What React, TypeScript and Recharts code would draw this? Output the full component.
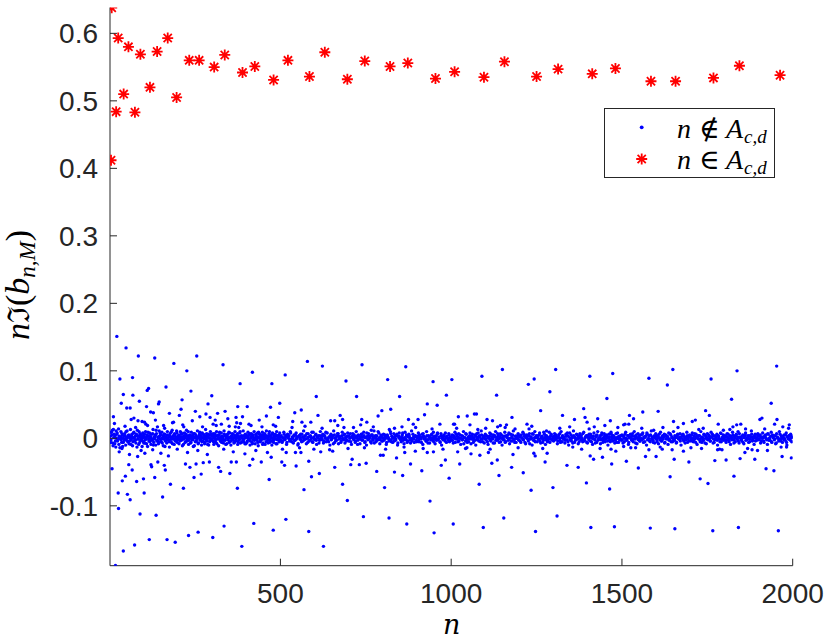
import React from 'react';
import { ScatterChart, Scatter, XAxis, YAxis } from 'recharts';

// ---------- axis ticks ----------
const xTicks = [500, 1000, 1500, 2000];
const xTickLabels = ['500', '1000', '1500', '2000'];
const yTicks = [-0.1, 0, 0.1, 0.2, 0.3, 0.4, 0.5, 0.6];
const yTickLabels = ['-0.1', '0', '0.1', '0.2', '0.3', '0.4', '0.5', '0.6'];
const xDomain = [1, 2000];
const yDomain = [-0.1887, 0.6383];

// ---------- n in A_{c,d} (red stars) ----------
const inSetDots: [number, number][] = [
  [4, 0.412], [6, 0.638], [19, 0.484], [25, 0.593], [41, 0.510], [55, 0.580], [74, 0.483],
  [90, 0.569], [118, 0.520], [139, 0.573], [170, 0.593], [196, 0.505], [233, 0.560],
  [262, 0.560], [306, 0.550], [337, 0.568], [389, 0.542], [425, 0.551], [480, 0.531],
  [522, 0.560], [585, 0.536], [630, 0.572], [696, 0.532], [747, 0.559], [821, 0.551],
  [873, 0.556], [954, 0.533], [1010, 0.543], [1096, 0.535], [1156, 0.558], [1250, 0.536],
  [1313, 0.547], [1413, 0.540], [1481, 0.548], [1585, 0.529], [1657, 0.529], [1768, 0.534],
  [1844, 0.552], [1963, 0.538],
];

// ---------- n not in A_{c,d}: scattered values ----------
const spreadDots: [number, number][] = [
  [21, .151], [48, .134], [84, .122], [132, .119], [255, .122], [188, .111], [332, .109], [226, .100],
  [418, .098], [514, .094], [67, .090], [30, .088], [382, .081], [475, .081], [165, .076], [114, .074],
  [110, .071], [238, .070], [40, .065], [68, .064], [299, .063], [212, .057], [87, .055], [145, .054],
  [143, .051], [34, .052], [288, .051], [498, .052], [50, .045], [60, .045], [108, .047], [375, .047],
  [403, .047], [471, .046], [209, .043], [120, .039], [128, .038], [251, .040], [316, .037], [338, .040],
  [175, .037], [11, .032], [71, .030], [204, .034], [264, .032], [282, .036], [294, .031], [370, .031],
  [389, .032], [459, .033], [494, .031], [83, .026], [95, .025], [102, .024], [187, .024], [309, .027],
  [327, .021], [372, .023], [383, .022], [438, .027], [303, .021], [111, .019], [140, .017], [161, .015],
  [217, .017], [350, .018], [368, .017], [414, .019], [479, .020], [19, .011],
  [36, -.015], [82, -.027], [103, -.022], [7, -.045], [56, -.039], [66, -.047], [121, -.039], [123, -.042],
  [141, -.035], [160, -.040], [163, -.047], [222, -.038], [235, -.043], [253, -.038], [274, -.036],
  [292, -.035], [319, -.043], [325, -.049], [352, -.052], [356, -.035], [371, -.035], [410, -.040],
  [419, -.031], [444, -.035], [473, -.028], [512, -.040], [504, -.035], [37, -.063], [46, -.056],
  [79, -.064], [99, -.060], [132, -.058], [178, -.068], [247, -.058], [268, -.053], [467, -.061],
  [25, -.081], [52, -.083], [60, -.091], [101, -.081], [155, -.087], [216, -.074], [374, -.074],
  [26, -.104], [89, -.112], [136, -.114], [516, -.120], [40, -.167], [73, -.158], [116, -.150],
  [168, -.150], [192, -.154], [231, -.144], [259, -.139], [302, -.147], [335, -.130], [387, -.160],
  [422, -.126], [479, -.136], [17, -.1885],
  [579, .114], [623, .107], [739, .109], [867, .106], [692, .085], [814, .087], [947, .084],
  [1002, .087], [605, .062], [723, .062], [849, .062], [986, .064], [930, .051], [959, .049],
  [561, .042], [542, .038], [823, .043], [797, .041], [610, .034], [675, .034], [786, .033], [922, .035],
  [536, .025], [563, .024], [589, .024], [647, .026], [659, .026], [682, .028], [738, .028], [735, .020],
  [753, .024], [875, .028], [903, .028], [889, .021], [856, .017], [967, .021], [1007, .021], [686, .016],
  [766, .012], [819, .013],
  [517, -.021], [544, -.021], [560, -.021], [618, -.020], [653, -.019], [710, -.031], [731, -.039],
  [751, -.037], [706, -.039], [793, -.025], [801, -.025], [840, -.029], [864, -.021], [881, -.038],
  [895, -.019], [930, -.021], [948, -.020], [983, -.032], [971, -.040], [546, -.041], [583, -.034],
  [659, -.043], [782, -.049], [834, -.050], [858, -.055], [914, -.048], [591, -.057], [614, -.052],
  [994, -.059], [569, -.076], [682, -.068], [805, -.073], [696, -.092], [938, -.093], [743, -.116],
  [818, -.118], [870, -.127], [1006, -.127], [583, -.138], [950, -.140], [626, -.160],
  [1090, .092], [1150, .102], [1306, .102], [1406, .092], [1473, .096], [1226, .080], [1243, .088],
  [1289, .069], [1133, .064], [1456, .059], [1388, .044], [1262, .041], [1021, .032], [1047, .033],
  [1068, .036], [1074, .036], [1178, .031], [1326, .034], [1392, .031], [1429, .029], [1466, .026],
  [1010, .021], [1055, .020], [1105, .028], [1121, .026], [1136, .017], [1144, .019], [1162, .020],
  [1101, .015], [1222, .021], [1236, .018], [1347, .017], [1361, .028], [1398, .024], [1419, .017],
  [1450, .019], [1505, .020], [1279, .011], [1187, .014],
  [1019, -.020], [1025, -.038], [1042, -.015], [1058, -.023], [1084, -.025], [1109, -.021], [1119, -.037],
  [1135, -.032], [1181, -.024], [1177, -.043], [1140, -.055], [1211, -.051], [1242, -.022], [1246, -.026],
  [1281, -.022], [1275, -.035], [1339, -.040], [1372, -.043], [1382, -.016], [1407, -.026], [1417, -.031],
  [1443, -.028], [1470, -.038], [1468, -.016], [1482, -.019], [1082, -.068], [1234, -.077], [1298, -.073],
  [1396, -.066], [1464, -.075], [1154, -.118], [1310, -.115], [1094, -.132], [1247, -.138], [1409, -.132],
  [1478, -.131],
  [1579, .089], [1649, .102], [1633, .079], [1761, .088], [1837, .100], [1953, .107], [1821, .058],
  [1937, .052], [1745, .041], [1756, .034], [1561, .039], [1606, .040], [1522, .034], [1534, .029],
  [1651, .025], [1680, .022], [1706, .025], [1715, .027], [1782, .021], [1825, .017], [1836, .020],
  [1848, .021], [1862, .014], [1904, .028], [1910, .030], [1947, .021], [1954, .028], [1971, .017],
  [1990, .020], [1509, .021], [1520, .021], [1620, .016], [1593, .012], [1725, .013], [1797, .012],
  [1505, -.012], [1513, -.034], [1540, -.014], [1548, -.044], [1569, -.027], [1579, -.017], [1600, -.027],
  [1618, -.016], [1641, -.057], [1653, -.031], [1647, -.017], [1680, -.019], [1696, -.035], [1729, -.060],
  [1752, -.067], [1733, -.015], [1772, -.033], [1780, -.017], [1793, -.017], [1805, -.032], [1828, -.056],
  [1846, -.030], [1860, -.021], [1881, -.017], [1889, -.031], [1897, -.018], [1922, -.045], [1926, -.018],
  [1945, -.048], [1969, -.027], [1996, -.029], [1982, -.013], [1583, -.133], [1655, -.134], [1766, -.137],
  [1841, -.132], [1958, -.137],
];

// ---------- n not in A_{c,d}: moderate values ----------
const midDots: [number, number][] = [
  [14, .022], [28, -.020], [45, .018], [58, -.024], [63, .028], [76, .016], [92, -.018], [106, .021],
  [126, -.017], [134, .027], [150, -.022], [158, .019], [172, -.026], [184, .023], [198, -.016], [214, .020],
  [228, -.021], [242, .026], [258, -.018], [272, .017], [286, -.024], [312, .019], [334, -.016], [346, .029],
  [362, -.020], [378, .016], [396, -.023], [408, .021], [428, -.018], [446, .017], [462, -.021], [486, .018],
  [506, -.016], [534, .016], [556, -.014], [572, .018], [598, -.016], [622, .015], [644, -.017], [668, .019],
  [698, -.015], [714, .016], [746, -.014], [772, .017], [808, -.016], [834, .015], [862, -.013], [896, .016],
  [918, -.015], [944, .014], [976, -.016], [1016, .015], [1046, -.014], [1078, .013], [1114, -.016],
  [1158, .016], [1196, -.014], [1228, .014], [1268, -.015], [1318, .015], [1356, -.013], [1404, .014],
  [1436, -.015], [1488, .016], [1526, -.014], [1558, .015], [1612, -.013], [1664, .016], [1702, -.014],
  [1738, .015], [1786, -.016], [1816, .013], [1868, -.015], [1918, .014], [1966, -.013], [1988, .015],
];

// ---------- n not in A_{c,d}: values close to zero ----------
const bandDots: [number, number][] = [
  [2, .003], [3, -.006], [5, .009], [8, .012], [10, -.011], [12, .001], [13, .006], [15, -.008], [16, .004],
  [18, -.013], [20, .000], [22, .008], [23, -.004], [26, .014], [27, -.009], [29, .002], [31, -.001], [33, .010],
  [35, -.006], [37, .005], [38, -.012], [42, .003], [43, -.003], [44, .007], [47, -.010], [49, .001], [51, .011],
  [53, -.005], [54, .004], [57, -.008], [59, .002], [61, .013], [63, -.002], [65, .006], [67, -.011], [69, .000],
  [71, .009], [73, -.004], [75, .003], [77, -.007], [79, .005], [81, .012], [83, -.001], [85, -.009], [87, .004],
  [89, .007], [91, -.003], [93, .001], [95, -.012], [97, .008], [99, -.005],
  [101, .002], [103, -.007], [105, .010], [107, -.001], [109, .005], [111, -.012], [113, .003], [115, -.004],
  [117, .008], [119, .000], [121, -.009], [123, .006], [125, -.002], [127, .013], [129, -.006], [131, .001],
  [133, .004], [135, -.010], [137, .007], [140, -.003], [141, .002], [143, -.008], [145, .011], [147, -.001],
  [149, .005], [151, -.005], [153, .009], [155, .000], [157, -.011], [159, .003], [161, .006], [163, -.004],
  [165, .001], [167, -.007], [169, .010], [171, -.002], [173, .004], [175, -.013], [177, .007], [179, .002],
  [181, -.006], [183, .012], [185, -.001], [187, .003], [189, -.009], [191, .005], [193, .000], [195, -.004],
  [197, .008], [199, -.002],
  [201, .004], [203, -.008], [205, .001], [207, .010], [209, -.003], [211, .006], [213, -.011], [215, .002],
  [217, -.001], [219, .008], [221, -.006], [223, .003], [225, .012], [227, -.004], [229, .000], [231, -.009],
  [234, .005], [235, .002], [237, -.007], [239, .009], [241, -.002], [243, .004], [245, -.012], [247, .001],
  [249, .007], [251, -.005], [253, .003], [255, -.001], [257, .011], [259, -.008], [261, .002], [263, .006],
  [265, -.003], [267, .000], [269, -.010], [271, .008], [273, -.004], [275, .001], [277, .005], [279, -.006],
  [281, .013], [283, -.002], [285, .003], [287, -.009], [289, .006], [291, .000], [293, -.005], [295, .010],
  [297, -.001], [299, .004],
  [301, -.003], [303, .007], [305, -.009], [307, .001], [309, .004], [311, -.006], [313, .010], [315, -.001],
  [317, .003], [319, -.011], [321, .005], [323, .000], [325, -.004], [327, .008], [329, -.002], [331, .002],
  [333, -.007], [335, .011], [338, -.003], [339, .004], [341, .001], [343, -.008], [345, .006], [347, -.001],
  [349, .009], [351, -.005], [353, .002], [355, -.010], [357, .003], [359, .007], [361, -.002], [363, .000],
  [365, -.006], [367, .010], [369, -.004], [371, .001], [373, .005], [375, -.009], [377, .003], [379, -.001],
  [381, .008], [383, -.007], [385, .002], [387, .004], [390, -.003], [391, .011], [393, -.005], [395, .000],
  [397, .006], [399, -.008],
  [401, .002], [403, -.004], [405, .009], [407, -.001], [409, .005], [411, -.010], [413, .001], [415, .007],
  [417, -.006], [419, .003], [421, -.002], [423, .010], [426, -.008], [427, .000], [429, .004], [431, -.003],
  [433, .008], [435, -.011], [437, .002], [439, .006], [441, -.005], [443, .001], [445, -.001], [447, .009],
  [449, -.007], [451, .003], [453, .005], [455, -.009], [457, .000], [459, .011], [461, -.004], [463, .002],
  [465, -.002], [467, .007], [469, -.006], [471, .004], [473, .001], [475, -.010], [477, .008], [479, -.003],
  [481, .003], [483, -.001], [485, .006], [487, -.008], [489, .010], [491, -.002], [493, .000], [495, .005],
  [497, -.005], [499, .002],
  [502, .004], [505, -.006], [508, .001], [510, .009], [513, -.002], [516, .003], [518, -.009], [521, .006],
  [524, .000], [527, -.004], [529, .010], [532, -.001], [535, .002], [538, -.007], [540, .005], [543, -.003],
  [546, .008], [548, .001], [551, -.010], [554, .003], [557, -.001], [559, .006], [562, -.005], [565, .002],
  [568, .011], [570, -.002], [573, .004], [576, -.008], [579, .000], [581, .007], [584, -.004], [587, .003],
  [590, -.001], [592, .009], [595, -.006], [598, .002],
  [601, -.002], [604, .006], [606, -.009], [609, .001], [612, .004], [615, -.003], [617, .010], [620, -.001],
  [623, .003], [626, -.007], [628, .005], [631, .000], [634, -.005], [637, .008], [639, -.002], [642, .002],
  [645, -.010], [648, .006], [650, -.001], [653, .004], [656, .011], [659, -.006], [661, .001], [664, -.003],
  [667, .007], [670, -.008], [672, .003], [675, .000], [678, -.004], [681, .009], [683, -.001], [686, .005],
  [689, -.007], [692, .002], [694, -.002], [697, .008],
  [700, -.004], [703, .001], [705, .007], [708, -.009], [711, .003], [714, -.001], [716, .005], [719, -.006],
  [722, .010], [725, .000], [727, -.003], [730, .004], [733, -.008], [736, .002], [738, .006], [741, -.002],
  [744, .009], [748, -.005], [749, .001], [752, -.010], [755, .003], [758, .007], [760, -.001], [763, .002],
  [766, -.007], [769, .005], [771, -.003], [774, .011], [777, .000], [780, -.005], [782, .004], [785, -.002],
  [788, .008], [791, -.008], [793, .001], [796, .003], [799, -.004],
  [802, .006], [804, -.001], [807, .002], [810, -.009], [813, .005], [815, .000], [818, -.004], [822, .010],
  [824, -.002], [826, .003], [829, -.006], [832, .007], [835, .001], [837, -.003], [840, .004], [843, -.010],
  [846, .002], [848, .008], [851, -.001], [854, -.005], [857, .005], [859, .000], [862, -.008], [865, .009],
  [868, -.002], [870, .003], [874, -.004], [876, .006], [879, .001], [881, -.007], [884, .011], [887, -.001],
  [890, .002], [892, -.006], [895, .004], [898, -.003],
  [901, .001], [904, .008], [906, -.005], [909, .002], [912, -.001], [915, .006], [917, -.009], [920, .003],
  [923, .000], [926, -.004], [928, .010], [931, -.002], [934, .004], [937, -.007], [939, .001], [942, .005],
  [945, -.003], [948, .009], [950, -.001], [953, -.008], [956, .003], [959, .006], [961, -.002], [964, .000],
  [967, -.005], [970, .007], [972, -.010], [975, .002], [978, .004], [981, -.001], [983, .008], [986, -.006],
  [989, .001], [992, -.003], [994, .005], [997, .000],
  [1000, -.003], [1003, .005], [1006, -.007], [1009, .002], [1011, .009], [1014, -.001], [1017, .003],
  [1020, -.005], [1022, .007], [1025, .000], [1028, -.009], [1031, .004], [1033, -.002], [1036, .010],
  [1039, .001], [1042, -.004], [1044, .006], [1047, -.006], [1050, .002], [1053, -.001], [1055, .008],
  [1058, -.008], [1061, .003], [1064, .000], [1066, -.003], [1069, .005], [1072, -.010], [1075, .007],
  [1077, -.002], [1080, .002], [1083, .004], [1086, -.005], [1088, .011], [1091, -.001], [1094, .001],
  [1097, -.007],
  [1100, .006], [1102, -.002], [1105, .003], [1108, -.009], [1111, .000], [1113, .008], [1116, -.004],
  [1119, .002], [1122, -.001], [1124, .005], [1127, -.007], [1130, .010], [1133, .001], [1135, -.003],
  [1138, .004], [1141, -.006], [1144, .007], [1146, .000], [1149, -.010], [1152, .003], [1155, -.002],
  [1157, .009], [1160, -.005], [1163, .002], [1166, .005], [1168, -.001], [1171, -.008], [1174, .006],
  [1177, .001], [1179, -.004], [1182, .011], [1185, -.002], [1188, .003], [1190, -.006], [1193, .000],
  [1196, .007], [1199, -.003],
  [1201, .004], [1204, -.006], [1207, .001], [1210, .009], [1212, -.002], [1215, .003], [1218, -.008],
  [1221, .005], [1223, .000], [1226, -.004], [1229, .007], [1232, -.001], [1234, .002], [1237, -.010],
  [1240, .006], [1243, -.003], [1245, .010], [1248, .001], [1252, -.005], [1254, .004], [1256, -.001],
  [1259, .008], [1262, -.007], [1265, .002], [1267, .000], [1270, -.003], [1273, .006], [1276, -.009],
  [1278, .003], [1281, .001], [1284, -.002], [1287, .009], [1289, -.006], [1292, .004], [1295, -.001],
  [1298, .002],
  [1300, -.004], [1303, .007], [1306, -.001], [1308, .002], [1311, -.008], [1315, .005], [1317, .000],
  [1319, -.003], [1322, .010], [1325, -.005], [1328, .003], [1330, .001], [1333, -.007], [1336, .006],
  [1339, -.002], [1341, .004], [1344, -.010], [1347, .008], [1350, .000], [1352, -.004], [1355, .002],
  [1358, .011], [1361, -.006], [1363, .001], [1366, -.001], [1369, .005], [1372, -.008], [1374, .003],
  [1377, .007], [1380, -.002], [1383, .000], [1385, -.005], [1388, .009], [1391, -.003], [1394, .002],
  [1396, .004], [1399, -.007],
  [1402, .001], [1404, .006], [1407, -.004], [1410, .003], [1414, -.009], [1415, .000], [1418, .008],
  [1421, -.002], [1424, .004], [1426, -.006], [1429, .010], [1432, -.001], [1435, .002], [1437, -.008],
  [1440, .005], [1443, .000], [1446, -.003], [1448, .007], [1451, -.005], [1454, .003], [1457, .001],
  [1459, -.010], [1462, .006], [1465, -.002], [1468, .009], [1470, .002], [1473, -.004], [1476, .004],
  [1479, -.007], [1482, .001], [1484, -.001], [1487, .008], [1490, -.006], [1492, .003], [1495, .000],
  [1498, -.003],
  [1500, .005], [1503, -.007], [1506, .002], [1508, .000], [1511, .009], [1514, -.003], [1517, .004],
  [1519, -.009], [1522, .001], [1525, .006], [1528, -.002], [1530, .003], [1533, -.005], [1536, .010],
  [1539, -.001], [1541, .002], [1544, -.008], [1547, .007], [1550, .000], [1552, -.004], [1555, .005],
  [1558, -.002], [1561, .008], [1563, -.006], [1566, .001], [1569, .003], [1572, -.010], [1574, .006],
  [1577, -.001], [1580, .004], [1583, -.005], [1586, .011], [1588, .000], [1591, -.003], [1594, .002],
  [1596, -.007], [1599, .007],
  [1602, -.002], [1604, .004], [1607, -.008], [1610, .001], [1613, .009], [1615, -.004], [1618, .002],
  [1621, -.001], [1624, .006], [1626, -.006], [1629, .003], [1632, .000], [1635, -.009], [1637, .008],
  [1640, -.002], [1643, .005], [1646, .001], [1648, -.005], [1651, .010], [1654, -.003], [1658, .002],
  [1659, -.007], [1662, .004], [1665, .000], [1668, -.001], [1670, .007], [1673, -.010], [1676, .003],
  [1679, .006], [1681, -.004], [1684, .001], [1687, -.002], [1690, .009], [1692, -.006], [1695, .002],
  [1698, .005],
  [1701, -.003], [1703, .000], [1706, .008], [1709, -.005], [1712, .003], [1714, -.001], [1717, .006],
  [1720, -.009], [1723, .002], [1725, .004], [1728, -.002], [1731, .010], [1734, -.006], [1736, .001],
  [1739, -.003], [1742, .005], [1745, .000], [1747, -.008], [1750, .007], [1753, -.001], [1756, .003],
  [1758, -.004], [1761, .009], [1764, .002], [1767, -.007], [1769, .004], [1772, -.002], [1775, .000],
  [1778, .006], [1780, -.010], [1783, .003], [1786, -.001], [1789, .008], [1791, -.005], [1794, .001],
  [1797, .005], [1799, -.003],
  [1802, .002], [1805, -.006], [1808, .007], [1810, .000], [1813, -.003], [1816, .004], [1818, -.009],
  [1821, .001], [1824, .009], [1827, -.002], [1829, .003], [1832, -.005], [1835, .006], [1838, -.001],
  [1840, .010], [1843, -.007], [1846, .002], [1849, .000], [1851, -.004], [1854, .005], [1857, -.008],
  [1860, .003], [1862, .008], [1865, -.002], [1868, .001], [1871, -.006], [1873, .004], [1876, -.001],
  [1879, .011], [1882, -.004], [1884, .002], [1887, -.009], [1890, .006], [1893, .000], [1895, -.003],
  [1898, .007],
  [1901, -.002], [1904, .003], [1906, -.007], [1909, .001], [1912, .008], [1915, -.004], [1917, .002],
  [1920, .005], [1923, -.001], [1926, -.009], [1928, .006], [1931, .000], [1934, -.003], [1937, .009],
  [1939, -.006], [1942, .002], [1945, .004], [1948, -.001], [1950, -.008], [1953, .007], [1956, .001],
  [1959, -.004], [1961, .010], [1964, -.002], [1967, .003], [1970, -.006], [1972, .000], [1975, .005],
  [1978, -.003], [1981, .008], [1983, -.010], [1986, .002], [1989, .004], [1992, -.001], [1994, .006],
  [1997, -.005], [2000, .001],
];

// ---------- n not in A_{c,d}: core values nearest zero ----------
const coreDots: [number, number][] = [
  [4, -.002], [7, .005], [9, -.007], [11, .013], [14, .001], [17, -.004], [21, .006], [24, -.001], [28, .003],
  [30, -.014], [32, .002], [34, -.002], [36, .007], [39, .000], [40, -.006], [45, .004], [46, -.001], [48, .010],
  [50, -.003], [52, .001], [56, .005], [58, -.004], [60, .000], [62, -.009], [64, .003], [66, .002], [68, -.005],
  [70, .008], [72, .001], [76, -.002], [78, .006], [80, -.013], [82, .003], [84, -.001], [86, .010], [88, -.006],
  [90, .002], [92, .005], [94, -.003], [96, .000], [98, .004], [100, -.007],
  [102, .006], [104, -.002], [106, .001], [108, -.008], [110, .003], [112, .009], [114, -.001], [116, .004],
  [118, -.005], [120, .002], [122, .000], [124, -.003], [126, .007], [128, -.010], [130, .002], [132, -.001],
  [134, .005], [136, .012], [138, -.004], [142, .001], [144, -.006], [146, .003], [148, .008], [150, -.002],
  [152, .000], [154, -.007], [156, .004], [158, -.001], [160, .006], [162, -.012], [164, .002], [166, -.003],
  [168, .005], [172, .001], [174, -.005], [176, .003], [178, -.002], [180, .009], [182, .000], [184, -.008],
  [186, .004], [188, -.001], [190, .007], [192, -.004], [194, .002], [196, .011], [198, -.006], [200, .001],
  [202, -.001], [204, .005], [206, -.004], [208, .002], [210, .008], [212, -.002], [214, .000], [216, -.009],
  [218, .004], [220, .001], [222, -.005], [224, .006], [226, -.001], [228, .003], [230, .010], [232, -.003],
  [236, .000], [238, -.006], [240, .004], [242, .002], [244, -.002], [246, .007], [248, -.011], [250, .001],
  [252, .005], [254, -.004], [256, .002], [258, .000], [260, -.007], [262, .003], [264, .009], [266, -.002],
  [268, .004], [270, -.005], [272, .001], [274, .006], [276, -.001], [278, -.008], [280, .003], [282, .000],
  [284, .007], [286, -.004], [288, .002], [290, -.010], [292, .005], [294, .001], [296, -.003], [298, .006],
  [300, -.001],
  [302, .003], [304, -.005], [306, .001], [308, .007], [310, -.002], [312, .004], [314, -.008], [316, .000],
  [318, .005], [320, -.001], [322, .009], [324, -.004], [326, .002], [328, -.006], [330, .003], [332, .000],
  [334, -.003], [336, .006], [340, -.009], [342, .002], [344, .004], [346, -.002], [348, .001], [350, -.006],
  [352, .008], [354, .000], [356, -.004], [358, .003], [360, -.001], [362, .006], [364, -.007], [366, .002],
  [368, .004], [370, -.003], [372, .000], [374, .007], [376, -.005], [378, .001], [380, -.002], [382, .010],
  [384, .003], [386, -.006], [388, .000], [392, -.001], [394, .004], [396, -.008], [398, .002], [400, .005],
  [402, -.006], [404, .001], [406, .004], [408, -.002], [410, .007], [412, -.004], [414, .000], [416, .003],
  [418, -.008], [420, .005], [422, .001], [424, -.003], [428, .006], [430, -.001], [432, .002], [434, -.006],
  [436, .009], [438, .000], [440, -.004], [442, .003], [444, -.002], [446, .005], [448, -.009], [450, .001],
  [452, -.001], [454, .007], [456, .002], [458, -.005], [460, .004], [462, .000], [464, -.007], [466, .003],
  [468, .010], [470, -.002], [472, .001], [474, -.004], [476, .006], [478, .000], [480, -.006], [482, .002],
  [484, .005], [486, -.001], [488, .003], [490, -.008], [492, .004], [494, .000], [496, -.003], [498, .008],
  [500, -.002],
  [503, .002], [506, -.004], [509, .000], [511, .006], [514, -.001], [517, .003], [519, -.006], [522, .001],
  [525, .004], [528, -.002], [530, .008], [533, -.005], [536, .000], [539, .003], [541, -.003], [544, .005],
  [547, -.001], [549, .002], [552, -.008], [555, .004], [558, .001], [560, -.002], [563, .006], [566, -.004],
  [569, .000], [571, .003], [574, -.001], [577, .007], [580, -.006], [582, .002], [585, -.003], [588, .004],
  [591, .001], [593, -.005], [596, .009], [599, -.001],
  [600, -.001], [603, .005], [605, -.003], [608, .002], [611, .000], [613, -.007], [616, .004], [619, .001],
  [622, -.002], [624, .006], [627, -.004], [630, .003], [633, .009], [636, -.001], [638, .000], [641, -.005],
  [644, .002], [647, .004], [649, -.002], [652, .001], [655, -.008], [658, .005], [660, .000], [663, -.003],
  [666, .003], [669, .007], [671, -.001], [674, .002], [677, -.006], [680, .004], [682, .000], [685, -.002],
  [688, .006], [691, .001], [693, -.004], [696, .003],
  [701, .004], [704, .000], [706, -.005], [709, .002], [712, .007], [715, -.002], [717, .001], [720, -.004],
  [723, .003], [726, -.009], [728, .005], [731, .000], [734, -.001], [737, .006], [739, -.003], [742, .002],
  [745, .004], [747, -.006], [750, .001], [753, .008], [756, -.002], [759, .000], [761, .003], [764, -.005],
  [767, .005], [770, -.001], [772, .002], [775, -.007], [778, .004], [781, .000], [783, -.003], [786, .010],
  [789, .001], [792, -.002], [794, .005], [797, -.004],
  [800, .001], [803, -.003], [806, .005], [808, .000], [811, -.006], [814, .003], [816, .001], [819, -.002],
  [823, .007], [825, -.005], [828, .002], [830, .000], [833, -.004], [836, .004], [838, -.001], [841, .006],
  [844, -.007], [847, .003], [849, .000], [852, -.002], [855, .002], [858, .008], [860, -.003], [863, .001],
  [866, -.001], [869, .005], [871, -.006], [875, .002], [877, .004], [880, -.002], [882, .000], [885, -.004],
  [888, .006], [891, -.001], [893, .002], [896, .003], [899, -.005],
  [902, .003], [905, -.002], [907, .005], [910, .000], [913, -.006], [916, .002], [918, .007], [921, -.001],
  [924, .001], [927, -.004], [929, .004], [932, -.007], [935, .002], [938, .000], [940, -.002], [943, .006],
  [946, .001], [949, -.005], [951, .003], [954, .000], [957, -.003], [960, .008], [962, -.001], [965, .002],
  [968, -.006], [971, .004], [973, .000], [976, -.002], [979, .005], [982, -.004], [984, .001], [987, .003],
  [990, -.001], [993, .007], [995, -.005], [998, .002],
  [1001, .001], [1004, -.003], [1007, .004], [1010, .000], [1012, -.006], [1015, .006], [1018, -.001],
  [1021, .002], [1023, -.004], [1026, .005], [1029, .000], [1032, -.002], [1034, .003], [1037, -.008],
  [1040, .001], [1043, .007], [1045, -.002], [1048, .000], [1051, -.005], [1054, .004], [1056, .002],
  [1059, -.001], [1062, .006], [1065, -.006], [1067, .001], [1070, -.003], [1073, .003], [1076, .000],
  [1079, .008], [1081, -.004], [1084, .002], [1087, -.001], [1089, .005], [1092, -.005], [1095, .003],
  [1098, .000],
  [1101, -.001], [1103, .004], [1106, -.005], [1109, .001], [1112, .003], [1114, -.002], [1117, .006],
  [1120, .000], [1123, -.007], [1125, .002], [1128, .004], [1131, -.003], [1134, .001], [1136, .007],
  [1139, -.001], [1142, .002], [1145, -.005], [1147, .005], [1150, .000], [1153, -.002], [1156, .003],
  [1158, -.006], [1161, .004], [1164, .001], [1167, -.003], [1169, .008], [1172, .000], [1175, -.004],
  [1178, .002], [1180, .005], [1183, -.001], [1186, -.006], [1189, .003], [1191, .000], [1194, .004],
  [1197, -.002],
  [1200, .002], [1202, -.004], [1205, .005], [1208, .000], [1211, -.002], [1213, .006], [1216, -.006],
  [1219, .001], [1222, .003], [1224, -.001], [1227, .004], [1230, -.008], [1233, .002], [1235, .000],
  [1238, .007], [1241, -.003], [1244, .001], [1246, -.005], [1249, .004], [1253, .002], [1255, -.001],
  [1258, .005], [1260, -.004], [1263, .000], [1266, .003], [1268, -.006], [1271, .009], [1274, .001],
  [1277, -.002], [1279, .004], [1282, -.005], [1285, .000], [1288, .002], [1290, -.001], [1293, .006],
  [1296, -.003], [1299, .001],
  [1301, .003], [1304, -.002], [1307, .005], [1309, .000], [1312, -.004], [1314, .002], [1318, .007],
  [1320, -.006], [1323, .001], [1326, .004], [1329, -.001], [1331, .000], [1334, -.003], [1337, .003],
  [1340, .008], [1342, -.005], [1345, .002], [1348, -.002], [1351, .005], [1353, .000], [1356, -.007],
  [1359, .004], [1362, .001], [1364, -.003], [1367, .006], [1370, -.001], [1373, .002], [1375, -.005],
  [1378, .000], [1381, .004], [1384, -.002], [1386, .007], [1389, -.004], [1392, .001], [1395, .003],
  [1397, -.006],
  [1400, .004], [1403, -.002], [1405, .001], [1408, .006], [1411, -.005], [1413, .000], [1416, .003],
  [1419, -.001], [1422, -.007], [1425, .002], [1427, .005], [1430, -.003], [1433, .000], [1436, .004],
  [1438, -.002], [1441, .008], [1444, -.006], [1447, .001], [1449, .003], [1452, -.001], [1455, .005],
  [1458, -.004], [1460, .000], [1463, .002], [1466, -.005], [1469, .006], [1471, -.001], [1474, .003],
  [1477, .000], [1480, -.003], [1483, .007], [1485, -.006], [1488, .002], [1491, .000], [1493, -.002],
  [1496, .004],
  [1501, -.002], [1504, .003], [1507, -.005], [1509, .006], [1512, .000], [1515, -.001], [1518, .004],
  [1520, -.006], [1523, .002], [1526, .000], [1529, -.003], [1531, .007], [1534, -.001], [1537, .003],
  [1540, -.007], [1542, .005], [1545, .001], [1548, -.002], [1551, .004], [1553, -.004], [1556, .000],
  [1559, .006], [1562, -.001], [1564, .002], [1567, -.005], [1570, .003], [1573, .008], [1575, -.002],
  [1578, .000], [1581, -.004], [1584, .005], [1587, -.001], [1589, .002], [1592, -.006], [1595, .004],
  [1598, .000],
  [1601, .003], [1603, -.005], [1606, .001], [1609, .006], [1611, -.002], [1614, .000], [1617, -.004],
  [1619, .004], [1622, .002], [1625, -.007], [1628, .005], [1630, -.001], [1633, .003], [1636, .000],
  [1638, -.003], [1641, .007], [1644, -.005], [1647, .002], [1649, .000], [1652, -.002], [1655, .004],
  [1657, .001], [1660, -.006], [1663, .006], [1666, -.001], [1669, .002], [1671, -.004], [1674, .000],
  [1677, .005], [1680, -.002], [1682, .003], [1685, -.007], [1688, .001], [1691, .004], [1693, -.001],
  [1696, -.004], [1699, .002],
  [1700, .002], [1702, -.004], [1705, .005], [1708, .000], [1710, -.002], [1713, .007], [1716, -.006],
  [1718, .001], [1721, .003], [1724, -.001], [1727, .004], [1729, -.005], [1732, .000], [1735, .002],
  [1737, -.003], [1740, .006], [1743, -.007], [1746, .003], [1748, .001], [1751, -.002], [1754, .005],
  [1757, .000], [1759, -.004], [1762, .002], [1765, .006], [1768, -.001], [1770, -.006], [1773, .003],
  [1776, .001], [1779, -.003], [1781, .004], [1784, .000], [1787, -.005], [1790, .007], [1792, -.001],
  [1795, .002], [1798, -.002],
  [1800, -.001], [1803, .004], [1806, -.003], [1809, .002], [1811, .006], [1814, -.005], [1817, .000],
  [1819, .003], [1822, -.002], [1825, .005], [1828, -.007], [1830, .001], [1833, .004], [1836, -.001],
  [1839, .002], [1841, -.004], [1844, .007], [1847, .000], [1850, -.002], [1852, .003], [1855, -.006],
  [1858, .001], [1861, .005], [1863, -.003], [1866, .000], [1869, .004], [1872, -.001], [1874, -.005],
  [1877, .002], [1880, .006], [1883, -.002], [1885, .000], [1888, .003], [1891, -.004], [1894, .001],
  [1897, .005],
  [1900, .003], [1902, -.001], [1905, .005], [1908, -.004], [1911, .000], [1913, .002], [1916, -.006],
  [1919, .004], [1921, .001], [1924, -.002], [1927, .007], [1930, -.003], [1932, .000], [1935, .003],
  [1938, -.005], [1941, .005], [1943, .001], [1946, -.002], [1949, .004], [1952, -.007], [1955, .002],
  [1957, .000], [1960, -.001], [1963, .006], [1965, -.004], [1968, .001], [1971, .003], [1974, -.002],
  [1976, .000], [1979, .005], [1982, -.006], [1985, .002], [1987, -.001], [1990, .004], [1993, -.003],
  [1995, .001], [1998, .003],
];

const blueData = [...bandDots, ...coreDots, ...midDots, ...spreadDots].map(([n, v]) => ({ n, v }));
const redData = inSetDots.map(([n, v]) => ({ n, v }));

const AXIS = '#262626';
const TICK_LEN = 7;
const tickFont = '"Liberation Sans", Arial, Helvetica, sans-serif';
const mathFont = '"Liberation Serif", "DejaVu Serif", serif';

const BottomTick = (props: any) => {
  const { x, y, payload } = props;
  const i = xTicks.indexOf(payload.value);
  return (
    <g>
      <line x1={x} y1={y} x2={x} y2={y - TICK_LEN} stroke={AXIS} strokeWidth={1} />
      <text x={x} y={y + 37} textAnchor="middle" fontFamily={tickFont} fontSize={28} fill="#262626">
        {i >= 0 ? xTickLabels[i] : String(payload.value)}
      </text>
    </g>
  );
};
const TopTick = (props: any) => {
  const { x, y } = props;
  return <line x1={x} y1={y} x2={x} y2={y + TICK_LEN} stroke={AXIS} strokeWidth={1} />;
};
const LeftTick = (props: any) => {
  const { x, y, payload } = props;
  const i = yTicks.indexOf(payload.value);
  return (
    <g>
      <line x1={x} y1={y} x2={x + TICK_LEN} y2={y} stroke={AXIS} strokeWidth={1} />
      <text x={x - 12} y={y + 10} textAnchor="end" fontFamily={tickFont} fontSize={28} fill="#262626">
        {i >= 0 ? yTickLabels[i] : String(payload.value)}
      </text>
    </g>
  );
};
const RightTick = (props: any) => {
  const { x, y } = props;
  return <line x1={x} y1={y} x2={x - TICK_LEN} y2={y} stroke={AXIS} strokeWidth={1} />;
};

const BlueDot = (props: any) => {
  const { cx, cy } = props;
  if (cx == null || cy == null) return null;
  return <circle cx={cx} cy={cy} r={1.7} fill="#0000ff" />;
};
const starPath = (cx: number, cy: number) => {
  const a = 5.5;
  const d = 4.1;
  return `M${cx - a},${cy}L${cx + a},${cy}M${cx},${cy - a}L${cx},${cy + a}M${cx - d},${cy - d}L${cx + d},${cy + d}M${cx - d},${cy + d}L${cx + d},${cy - d}`;
};
const RedStar = (props: any) => {
  const { cx, cy } = props;
  if (cx == null || cy == null) return null;
  return <path d={starPath(cx, cy)} stroke="#ff0000" strokeWidth={1.8} fill="none" />;
};

export default function App() {
  const axisLine = { stroke: AXIS, strokeWidth: 1 };
  return (
    <div style={{ position: 'absolute', left: 0, top: 0, width: 830, height: 641, background: '#fff' }}>
      <ScatterChart width={830} height={641} margin={{ top: 7.5, right: 37.3, bottom: 0, left: 0 }}>
        <XAxis xAxisId="b" type="number" dataKey="n" domain={xDomain} ticks={xTicks} allowDataOverflow
          orientation="bottom" height={75.3} tickSize={0} tickMargin={0} interval={0}
          tick={BottomTick} tickLine={false} axisLine={axisLine} />
        <XAxis xAxisId="t" type="number" dataKey="n" domain={xDomain} ticks={xTicks} allowDataOverflow
          orientation="top" height={0} tickSize={0} tickMargin={0} interval={0}
          tick={TopTick} tickLine={false} axisLine={axisLine} />
        <YAxis yAxisId="l" type="number" dataKey="v" domain={yDomain} ticks={yTicks} allowDataOverflow
          orientation="left" width={110} tickSize={0} tickMargin={0} interval={0}
          tick={LeftTick} tickLine={false} axisLine={axisLine} />
        <YAxis yAxisId="r" type="number" dataKey="v" domain={yDomain} ticks={yTicks} allowDataOverflow
          orientation="right" width={0} tickSize={0} tickMargin={0} interval={0}
          tick={RightTick} tickLine={false} axisLine={axisLine} />
        <Scatter data={blueData} xAxisId="b" yAxisId="l" shape={BlueDot} isAnimationActive={false} />
        <Scatter data={redData} xAxisId="b" yAxisId="l" shape={RedStar} isAnimationActive={false} />
      </ScatterChart>
      <svg width={830} height={641} style={{ position: 'absolute', left: 0, top: 0, pointerEvents: 'none' }}>
        {/* legend */}
        <rect x={604.5} y={108.5} width={170} height={69} fill="#fff" stroke={AXIS} strokeWidth={1} />
        <circle cx={641.7} cy={127.3} r={1.9} fill="#0000ff" />
        <path d={starPath(641.7, 159)} stroke="#ff0000" strokeWidth={1.8} fill="none" />
        <text y={138.3} fontFamily={mathFont} fontSize={28} fill="#000">
          <tspan x={677} fontStyle="italic">n</tspan>
          <tspan x={699}>∉</tspan>
          <tspan x={726} fontStyle="italic">A</tspan>
          <tspan x={744} dy={5} fontSize={19} fontStyle="italic">c,d</tspan>
        </text>
        <text y={169} fontFamily={mathFont} fontSize={28} fill="#000">
          <tspan x={677} fontStyle="italic">n</tspan>
          <tspan x={699}>∈</tspan>
          <tspan x={726} fontStyle="italic">A</tspan>
          <tspan x={744} dy={5} fontSize={19} fontStyle="italic">c,d</tspan>
        </text>
        {/* x axis title */}
        <text x={451.7} y={634} textAnchor="middle" fontFamily='"DejaVu Serif", serif' fontSize={27} fontStyle="italic" fill="#000">n</text>
        {/* y axis title */}
        <text transform="translate(28.5,285) rotate(-90)" textAnchor="middle" fontFamily={mathFont} fontSize={34} fill="#000">
          <tspan fontStyle="italic">n</tspan>
          <tspan fontFamily='"DejaVu Serif", serif' fontSize={30}>ℑ</tspan>
          <tspan>(</tspan>
          <tspan fontStyle="italic">b</tspan>
          <tspan fontStyle="italic" fontSize={23} dy={6}>n,M</tspan>
          <tspan dy={-6}>)</tspan>
        </text>
      </svg>
    </div>
  );
}
